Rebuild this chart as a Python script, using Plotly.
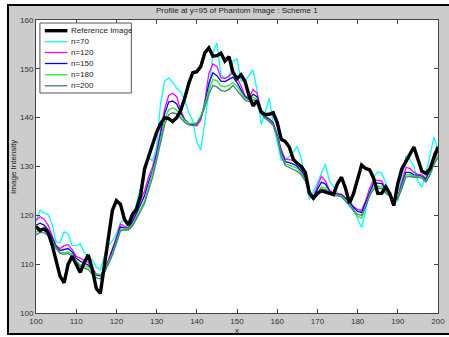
import plotly.graph_objects as go

# Pixel positions along the profile line
x_pos = list(range(100, 201))

reference = [
    117.7, 116.9, 117.2, 116.5, 114.0, 111.0, 107.5, 106.2, 110.0, 111.6,
    110.0, 108.3, 110.3, 111.9, 109.0, 105.0, 104.0, 109.5, 115.0, 121.0,
    123.0, 122.3, 119.2, 118.0, 120.2, 121.3, 124.0, 129.5, 132.0, 134.5,
    137.0, 138.8, 140.0, 139.8, 139.2, 140.0, 141.5, 144.0, 147.0, 149.2,
    149.4, 150.5, 153.3, 154.3, 152.6, 152.7, 153.2, 151.6, 152.5, 149.3,
    148.0, 148.8, 147.4, 144.5, 142.4, 143.5, 141.2, 140.6, 140.7, 141.0,
    139.0, 135.6, 135.1, 134.0, 131.5, 130.6, 130.0, 128.8, 124.5, 123.5,
    124.5, 125.0, 124.8, 124.5, 124.3, 126.5, 127.8, 125.5, 122.5, 124.5,
    127.5, 130.3, 129.6, 129.3, 127.6, 124.5, 124.5, 125.8, 124.5, 122.0,
    126.5, 129.5, 131.0, 132.5, 134.0, 131.5, 129.0, 128.6, 129.5, 131.8,
    134.0,
]

n70 = [
    118.7, 121.1, 120.5, 120.2, 118.2, 114.5, 114.4, 116.6, 116.2, 113.8,
    113.8, 114.2, 112.4, 111.4, 110.9, 109.4, 108.8, 111.7, 113.8, 114.8,
    116.2, 118.5, 119.0, 117.6, 119.0, 122.5, 125.8, 128.5, 131.8, 131.2,
    134.0, 143.0, 147.5, 148.1, 147.3, 146.0, 145.3, 143.5, 141.0, 139.3,
    135.0, 133.4, 139.2, 145.0, 153.2, 155.3, 148.6, 148.2, 148.3, 151.6,
    152.0, 147.5, 147.6, 148.8, 149.8, 145.5, 138.6, 141.0, 144.0, 138.9,
    134.8, 131.3, 131.5, 132.0, 133.0, 134.1, 131.5, 127.4, 123.3, 124.8,
    126.8, 128.6, 130.5, 127.0, 126.0, 124.6, 123.8, 123.0, 122.3, 121.2,
    119.2, 117.5, 121.0, 125.0, 127.8, 128.9, 128.7, 126.6, 124.2, 122.5,
    123.0, 128.0, 132.0, 131.5, 130.0, 127.0, 125.8, 128.6, 132.3, 136.0,
    133.5,
]

n120 = [
    119.0, 119.7, 119.2, 118.0, 115.8, 113.8, 113.2, 113.8, 114.0, 113.0,
    111.6, 111.2, 110.8, 110.4, 109.2, 108.0, 107.8, 108.8, 110.8, 113.0,
    115.5, 118.2, 117.8, 117.4, 119.0, 120.9, 123.0, 125.0, 127.8, 130.0,
    133.0, 137.2, 141.8, 144.5, 145.0, 144.3, 141.5, 139.5, 138.8, 138.5,
    138.3, 139.5, 143.5, 149.0, 151.0, 150.5, 148.2, 148.0, 148.5, 149.3,
    148.2, 146.5, 144.5, 144.0, 145.8, 145.0, 141.5, 140.3, 139.8, 139.0,
    136.5, 133.5, 131.5, 131.4, 131.2, 130.6, 129.5, 127.9, 125.0, 123.8,
    125.8, 128.0, 127.0, 125.2, 124.5, 124.5, 124.3, 123.6, 122.8, 121.8,
    121.2, 121.0, 123.0, 125.5, 127.2, 127.2, 127.0, 125.5, 124.5, 123.0,
    123.7, 126.8, 129.8, 129.6, 128.8, 128.4, 128.3, 127.5, 129.8, 132.8,
    133.8,
]

n150 = [
    118.0, 118.4, 118.0, 117.0, 115.4, 113.6, 112.8, 113.0, 113.2, 112.5,
    111.2, 110.6, 110.2, 109.8, 108.8, 107.8, 107.6, 108.8, 110.6, 112.6,
    115.0, 117.6, 117.5, 117.3, 118.6, 120.3, 122.2, 124.0, 126.8, 129.2,
    132.4, 136.6, 140.8, 143.2, 143.4, 142.8, 141.0, 139.6, 138.8, 138.6,
    138.7, 140.0, 142.8, 147.0, 149.2, 148.6, 147.5, 147.4, 147.8, 148.3,
    147.2, 145.8, 144.2, 143.8, 144.8, 144.3, 141.3, 140.2, 139.6, 138.8,
    136.5, 133.0, 131.0, 130.8, 130.5, 130.0, 129.0, 127.6, 125.0, 123.8,
    125.2, 126.8, 126.4, 125.0, 124.4, 124.3, 124.2, 123.5, 122.7, 121.6,
    120.8, 120.6, 122.6, 125.0, 126.6, 126.6, 126.5, 125.2, 124.4, 123.0,
    123.6, 126.2, 128.8, 128.8, 128.3, 128.2, 128.0, 127.3, 129.2, 131.8,
    133.2,
]

n180 = [
    116.5, 117.2, 117.0, 116.3, 115.0, 113.3, 112.4, 112.3, 112.5, 112.0,
    110.6, 109.9, 109.6, 109.4, 108.6, 108.0, 107.8, 108.8, 110.4, 112.2,
    114.6, 117.1, 117.2, 117.2, 118.2, 119.6, 121.3, 122.9, 125.8, 128.4,
    131.8, 135.8, 139.6, 141.6, 142.0, 141.6, 140.4, 139.4, 138.9, 138.8,
    139.0, 140.4, 142.8, 145.6, 147.8, 147.6, 146.5, 146.3, 146.6, 147.2,
    146.4, 145.2, 144.0, 143.6, 144.2, 143.8, 141.0, 140.0, 139.4, 138.6,
    136.2, 132.6, 130.6, 130.3, 130.0, 129.6, 128.7, 127.3, 124.8, 123.6,
    124.6, 125.8, 125.6, 124.7, 124.2, 124.2, 124.0, 123.2, 122.0, 120.8,
    119.8, 119.4, 121.8, 124.2, 125.8, 126.0, 125.8, 124.8, 124.2, 123.2,
    123.6, 125.8, 128.2, 128.4, 128.0, 128.0, 127.8, 127.0, 128.6, 130.8,
    132.4,
]

n200 = [
    116.0, 116.5, 116.4, 115.9, 114.6, 113.2, 112.2, 112.0, 112.2, 111.7,
    110.4, 109.6, 109.2, 108.9, 108.0, 107.2, 107.0, 108.2, 110.0, 111.8,
    114.2, 116.8, 117.0, 117.0, 117.8, 119.2, 120.8, 122.4, 125.2, 127.8,
    131.2, 135.0, 138.6, 140.6, 141.0, 140.8, 139.9, 139.0, 138.5, 138.4,
    138.7, 140.0, 142.2, 144.8, 146.6, 146.3, 145.6, 145.4, 145.8, 146.6,
    145.6, 144.6, 143.6, 143.3, 143.7, 143.4, 140.8, 139.8, 139.2, 138.4,
    136.0, 132.2, 130.2, 129.8, 129.4, 129.0, 128.3, 127.0, 124.6, 123.4,
    124.2, 125.4, 125.2, 124.4, 124.0, 124.0, 123.8, 123.0, 122.0, 121.0,
    120.2, 120.0, 121.8, 124.0, 125.4, 125.6, 125.4, 124.5, 123.9, 123.0,
    123.4, 125.4, 127.8, 128.0, 127.8, 127.8, 127.6, 126.8, 128.2, 130.4,
    131.8,
]

series_names = ["Reference Image", "n=70", "n=120", "n=150", "n=180", "n=200"]
series_values = [reference, n70, n120, n150, n180, n200]
series_colors = ["#000000", "#00ffff", "#ff00ff", "#0000ff", "#22ee22", "#408080"]
series_widths = [3.4, 1.3, 1.3, 1.3, 1.3, 1.3]

x_ticks = list(range(100, 201, 10))
y_ticks = list(range(100, 161, 10))

W, H = 449, 337
L, R, T, B = 36, 4, 20, 24
pw, ph = W - L - R, H - T - B


def px_x(p):
    return (p - L) / pw


def px_y(p):
    return (H - B - p) / ph


fig = go.Figure()

# Data curves: smoothed reconstructions first, reference on top
order = [1, 2, 3, 4, 5, 0]
for i in order:
    fig.add_trace(go.Scatter(
        x=x_pos, y=series_values[i], mode="lines", name=series_names[i],
        line=dict(color=series_colors[i], width=series_widths[i]),
        showlegend=False,
    ))

shapes = [
    # grey figure window with dark frame
    dict(type="rect", xref="paper", yref="paper", layer="below",
         x0=px_x(7.5), x1=px_x(460), y0=px_y(334), y1=px_y(5),
         fillcolor="#cccccc", line=dict(color="#000000", width=2)),
    # white axes area
    dict(type="rect", xref="paper", yref="paper", layer="below",
         x0=0, x1=1, y0=0, y1=1, fillcolor="#ffffff", line=dict(width=0)),
    # legend box
    dict(type="rect", xref="paper", yref="paper", layer="above",
         x0=px_x(40), x1=px_x(133), y0=px_y(93), y1=px_y(23),
         fillcolor="#ffffff", line=dict(color="#555555", width=1)),
]

annotations = [
    dict(text="Profile at y=95 of Phantom Image : Scheme 1", xref="paper", yref="paper",
         x=0.5, y=px_y(10.5), showarrow=False, xanchor="center", yanchor="middle",
         font=dict(family="Liberation Sans, Arial", size=8, color="#222222")),
    dict(text="x", xref="paper", yref="paper", x=0.5, y=px_y(330),
         showarrow=False, xanchor="center", yanchor="middle",
         font=dict(family="Liberation Sans, Arial", size=8, color="#222222")),
    dict(text="Image Intensity", xref="paper", yref="paper", x=px_x(13), y=0.5,
         showarrow=False, textangle=-90, xanchor="center", yanchor="middle",
         font=dict(family="Liberation Sans, Arial", size=8, color="#222222")),
]

legend_rows = [30.7, 41.7, 52.5, 63.5, 74.8, 85.8]
for name, color, width, row in zip(series_names, series_colors, series_widths, legend_rows):
    shapes.append(dict(type="line", xref="paper", yref="paper", layer="above",
                       x0=px_x(45), x1=px_x(68), y0=px_y(row), y1=px_y(row),
                       line=dict(color=color, width=width)))
    annotations.append(dict(text=name, xref="paper", yref="paper",
                            x=px_x(69.5), y=px_y(row), showarrow=False,
                            xanchor="left", yanchor="middle",
                            font=dict(family="Liberation Sans, Arial", size=8, color="#222222")))

axis_style = dict(
    showline=True, mirror="ticks", linecolor="#444444", linewidth=1,
    ticks="inside", ticklen=4, tickcolor="#444444", tickwidth=1,
    showgrid=False, zeroline=False, ticklabeloverflow="allow",
    tickfont=dict(family="Liberation Sans, Arial", size=8, color="#333333"),
)

fig.update_layout(
    width=W, height=H,
    margin=dict(l=L, r=R, t=T, b=B),
    paper_bgcolor="#ffffff",
    plot_bgcolor="rgba(0,0,0,0)",
    shapes=shapes,
    annotations=annotations,
    showlegend=False,
    xaxis=dict(range=[100, 200], tickvals=x_ticks, **axis_style),
    yaxis=dict(range=[100, 160], tickvals=y_ticks, **axis_style),
)

fig.write_html("out.html")
